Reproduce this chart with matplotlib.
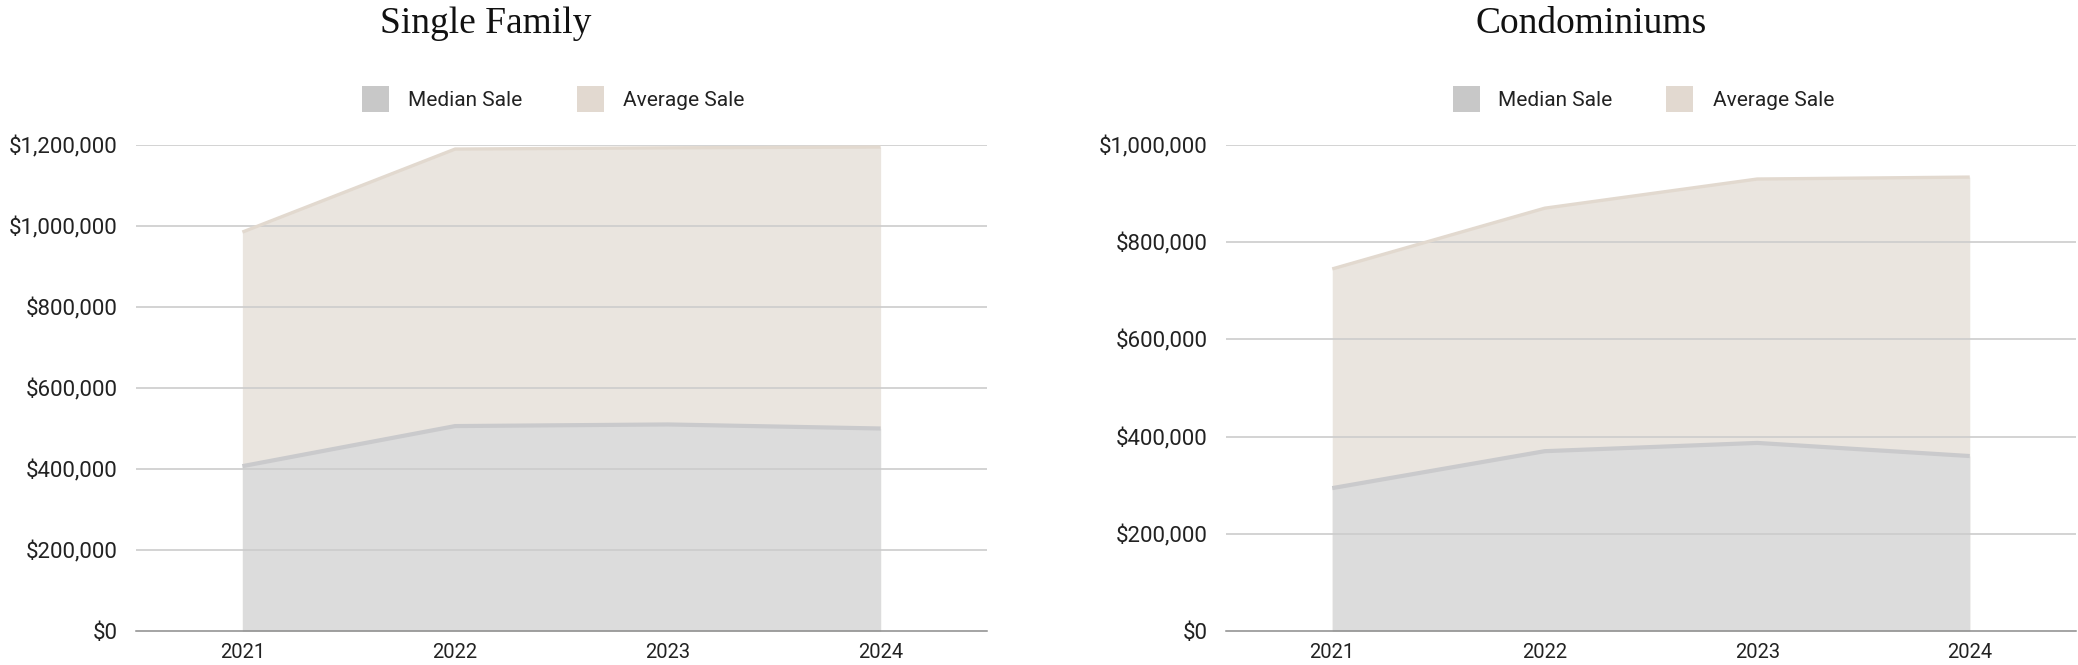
import matplotlib
matplotlib.use("Agg")
import matplotlib.pyplot as plt
from matplotlib.patches import Rectangle
from matplotlib.ticker import FuncFormatter

# ---------------- data ----------------
years = ["2021", "2022", "2023", "2024"]

sf_median = [407000, 506000, 510000, 500000]
sf_average = [985000, 1190000, 1193000, 1195000]

condo_median = [294000, 370000, 387000, 360000]
condo_average = [745000, 870000, 930000, 934000]

titles = ["Single Family", "Condominiums"]
legend_labels = ["Median Sale", "Average Sale"]
sf_yticks = [0, 200000, 400000, 600000, 800000, 1000000, 1200000]
condo_yticks = [0, 200000, 400000, 600000, 800000, 1000000]

# ---------------- style ----------------
W, H = 2078, 665
med_fill = "#DCDCDC"
med_line = "#CACACC"
avg_fill = "#EAE5DF"
avg_line = "#E2D9CF"
med_legend = "#C8C8C8"
avg_legend = "#E2D9D0"
grid_col = "#CCCCCC"
text_col = "#222222"
sans = ["Roboto", "DejaVu Sans"]
serif = ["Liberation Serif", "DejaVu Serif"]

fig = plt.figure(figsize=(W / 100, H / 100), dpi=100)
fig.patch.set_facecolor("white")


def px_axes(x0, x1, ytop, ybot):
    return fig.add_axes([x0 / W, (H - ybot) / H, (x1 - x0) / W, (ybot - ytop) / H])


def money(v, _):
    return "${:,.0f}".format(v)


panels = [
    (px_axes(136, 987, 145, 631), sf_median, sf_average, sf_yticks, titles[0], 486,
     (362, 408, 577, 623)),
    (px_axes(1226, 2076, 145, 631), condo_median, condo_average, condo_yticks, titles[1], 1591,
     (1453, 1498, 1666, 1713)),
]

for ax, med, avg, yticks, title, tx, leg in panels:
    x = list(range(len(years)))
    ax.fill_between(x, 0, avg, color=avg_fill, lw=0, zorder=1)
    ax.fill_between(x, 0, med, color=med_fill, lw=0, zorder=1.1)
    for t in yticks[1:]:
        ax.axhline(t, color=grid_col, lw=1.2, zorder=1.5)
    ax.plot(x, avg, color=avg_line, lw=2.4, zorder=2, solid_capstyle="butt")
    ax.plot(x, med, color=med_line, lw=3.0, zorder=2.1, solid_capstyle="butt")

    ax.set_xlim(-0.5, len(years) - 0.5)
    ax.set_ylim(0, yticks[-1])
    ax.set_xticks(x)
    ax.set_xticklabels(years)
    ax.set_yticks(yticks)
    ax.yaxis.set_major_formatter(FuncFormatter(money))
    for s in ["top", "right", "left"]:
        ax.spines[s].set_visible(False)
    ax.spines["bottom"].set_color("#8C8C8C")
    ax.spines["bottom"].set_linewidth(1.1)
    ax.spines["bottom"].set_zorder(3)
    ax.tick_params(axis="both", length=0, colors=text_col)
    ax.tick_params(axis="y", pad=13)
    ax.tick_params(axis="x", pad=9)
    for lab in ax.get_yticklabels():
        lab.set_fontfamily(sans)
        lab.set_fontsize(16)
    for lab in ax.get_xticklabels():
        lab.set_fontfamily(sans)
        lab.set_fontsize(14.5)
    ax.set_facecolor("none")

    fig.text(tx / W, (H - 33) / H, title, family=serif, fontsize=27,
             color="#111111", ha="center", va="baseline")

    b1, t1, b2, t2 = leg
    for bx, txx, col, lab in [(b1, t1, med_legend, legend_labels[0]),
                              (b2, t2, avg_legend, legend_labels[1])]:
        fig.patches.append(Rectangle((bx / W, (H - 112) / H), 27 / W, 26 / H,
                                     transform=fig.transFigure, facecolor=col,
                                     edgecolor="none"))
        fig.text(txx / W, (H - 106) / H, lab, family=sans, fontsize=15,
                 color=text_col, ha="left", va="baseline")

fig.savefig("out.png", dpi=100, facecolor="white")
